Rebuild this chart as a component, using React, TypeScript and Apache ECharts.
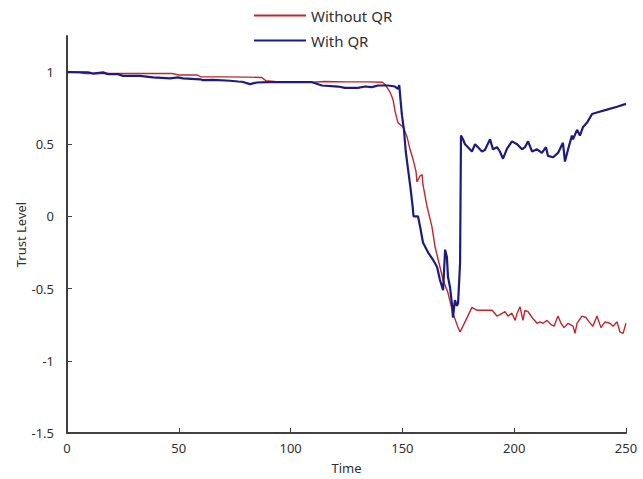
import React, { useEffect, useRef } from "react";
import * as echarts from "echarts";

const seriesNames = ["Without QR", "With QR"];
const xTicks = [0, 50, 100, 150, 200, 250];
const yTicks = [-1.5, -1, -0.5, 0, 0.5, 1];

const withoutQR: [number, number][] = [
  [0, 1.0], [5, 1.0], [8, 0.99], [20, 0.99], [33, 0.99], [47, 0.99], [50, 0.98], [58, 0.98],
  [60, 0.967], [70, 0.967], [80, 0.965], [87, 0.963], [89, 0.94], [95, 0.932], [100, 0.93],
  [110, 0.93], [115, 0.935], [125, 0.932], [135, 0.932], [141, 0.93], [142.5, 0.91],
  [144.5, 0.86], [145.8, 0.81], [146.7, 0.73], [148, 0.65], [150.3, 0.62], [152.1, 0.55],
  [153.4, 0.465], [154.7, 0.4], [156.1, 0.31], [156.5, 0.24], [157.9, 0.28], [158.8, 0.29],
  [159.2, 0.22], [161, 0.07], [163.2, -0.07], [164.6, -0.21], [166.8, -0.35], [168.2, -0.44],
  [170.4, -0.53], [172.6, -0.67], [174.9, -0.77], [175.8, -0.8],
  [178, -0.73], [181.1, -0.63], [183.4, -0.65], [190.1, -0.65], [192.3, -0.69], [193.6, -0.68],
  [195.9, -0.66], [197.2, -0.69], [199, -0.67], [200.4, -0.72], [201.3, -0.67], [202.6, -0.625],
  [203.9, -0.72], [204.8, -0.65], [206.2, -0.66], [208, -0.7], [210.2, -0.74], [211.5, -0.73],
  [212.9, -0.74], [214.7, -0.72], [216.5, -0.75], [217.8, -0.76], [219.6, -0.69], [220.9, -0.74],
  [222.3, -0.77], [224.1, -0.74], [226.3, -0.76], [227.2, -0.81], [228.1, -0.74], [230.3, -0.69],
  [232.1, -0.7], [233.5, -0.73], [235.2, -0.76], [237, -0.69], [238.8, -0.77], [240.6, -0.73],
  [242.8, -0.74], [244.2, -0.76], [246, -0.73], [247.3, -0.8], [248.7, -0.81], [250, -0.74],
];

const withQR: [number, number][] = [
  [0, 1.0], [9.4, 0.998], [11.6, 0.99], [16.1, 0.998], [18.3, 0.986], [22.8, 0.986], [25, 0.974],
  [32.6, 0.974], [38.5, 0.963], [46.1, 0.956], [49.6, 0.963], [51.9, 0.956], [59.5, 0.95],
  [60.8, 0.944], [65.3, 0.946], [72.9, 0.94], [76.5, 0.935], [78.3, 0.933], [81.8, 0.917],
  [85, 0.928], [89.9, 0.93], [100.6, 0.93], [109.6, 0.93], [114, 0.907], [121.2, 0.9],
  [124.3, 0.891], [130.1, 0.891], [133.3, 0.9], [136.4, 0.896], [139.1, 0.907], [143.6, 0.907],
  [146.7, 0.9], [148, 0.884], [148.6, 0.91],
  [149.2, 0.8], [149.8, 0.7], [150.7, 0.6], [151.5, 0.45], [152.5, 0.33], [153.6, 0.2],
  [154.5, 0.08], [155, 0.0], [157, 0.0], [157.9, -0.07], [159.2, -0.18], [161.5, -0.25],
  [163.7, -0.3], [165.5, -0.35], [166.8, -0.44], [168.2, -0.51], [169.1, -0.23], [169.9, -0.28],
  [170.4, -0.42], [171.3, -0.49], [172.2, -0.61], [172.6, -0.7], [173.5, -0.58], [174.4, -0.62],
  [174.9, -0.6], [175.8, -0.32], [176.2, 0.56],
  [177.1, 0.535], [178, 0.5], [179.3, 0.48], [181.1, 0.45], [182.5, 0.5], [183.8, 0.48],
  [185.6, 0.45], [186.9, 0.46], [189.2, 0.535], [190.5, 0.465], [192.3, 0.48], [193.6, 0.45],
  [195, 0.4], [196.8, 0.47], [199, 0.52], [201.3, 0.5], [203.5, 0.465], [204.8, 0.48],
  [206.2, 0.52], [208, 0.45], [210.2, 0.465], [212.4, 0.44], [214.2, 0.48], [215.1, 0.42],
  [217.4, 0.41], [219.6, 0.44], [221.8, 0.51], [222.7, 0.38], [224.1, 0.465], [225.8, 0.56],
  [226.3, 0.535], [228.1, 0.6], [229.4, 0.56], [230.8, 0.62], [232.6, 0.65], [234.8, 0.71],
  [237, 0.72], [241.5, 0.74], [246, 0.76], [250, 0.78],
];

const FONT = "Noto Sans";
const AXIS_COLOR = "#404040";

export default function App() {
  const ref = useRef<HTMLDivElement>(null);
  useEffect(() => {
    document.body.style.margin = "0";
    if (!ref.current) return;
    const chart = echarts.init(ref.current, null, { renderer: "svg" });
    chart.setOption({
      animation: false,
      backgroundColor: "#ffffff",
      textStyle: { fontFamily: FONT },
      legend: {
        orient: "vertical",
        left: 249,
        top: 2,
        icon: "rect",
        itemWidth: 52,
        itemHeight: 2,
        itemGap: 8,
        data: seriesNames,
        textStyle: { fontFamily: FONT, fontSize: 15, color: "#303030", lineHeight: 17 },
      },
      grid: { left: 67, right: 17, top: 36, bottom: 46 },
      xAxis: {
        type: "value",
        min: 0,
        max: 250,
        interval: 50,
        name: "Time",
        nameLocation: "middle",
        nameGap: 28,
        nameMoveOverlap: false,
        nameTextStyle: { fontFamily: FONT, fontSize: 13, color: "#303030" },
        splitLine: { show: false },
        axisLine: { onZero: false, lineStyle: { color: AXIS_COLOR, width: 2 } },
        axisTick: { inside: true, length: 5, lineStyle: { color: AXIS_COLOR, width: 1 }, customValues: xTicks },
        axisLabel: { fontFamily: FONT, fontSize: 13, color: "#303030", margin: 8, customValues: xTicks },
      },
      yAxis: {
        type: "value",
        min: -1.5,
        max: 1.25,
        interval: 0.5,
        name: "Trust Level",
        nameLocation: "middle",
        nameGap: 40,
        nameMoveOverlap: false,
        nameTextStyle: { fontFamily: FONT, fontSize: 13, color: "#303030" },
        splitLine: { show: false },
        axisLine: { show: true, onZero: false, lineStyle: { color: AXIS_COLOR, width: 2 } },
        axisTick: { show: true, inside: true, length: 5, lineStyle: { color: AXIS_COLOR, width: 1 }, customValues: yTicks },
        axisLabel: { fontFamily: FONT, fontSize: 13, color: "#303030", margin: 13, customValues: yTicks },
      },
      series: [
        {
          name: seriesNames[0],
          type: "line",
          data: withoutQR,
          showSymbol: false,
          symbol: "none",
          lineStyle: { color: "#c0272d", width: 1.4 },
          itemStyle: { color: "#c0272d" },
          z: 2,
        },
        {
          name: seriesNames[1],
          type: "line",
          data: withQR,
          showSymbol: false,
          symbol: "none",
          lineStyle: { color: "#1c1c80", width: 2.2 },
          itemStyle: { color: "#1c1c80" },
          z: 3,
        },
      ],
    });
    return () => chart.dispose();
  }, []);
  return <div ref={ref} style={{ width: 643, height: 479 }} />;
}
